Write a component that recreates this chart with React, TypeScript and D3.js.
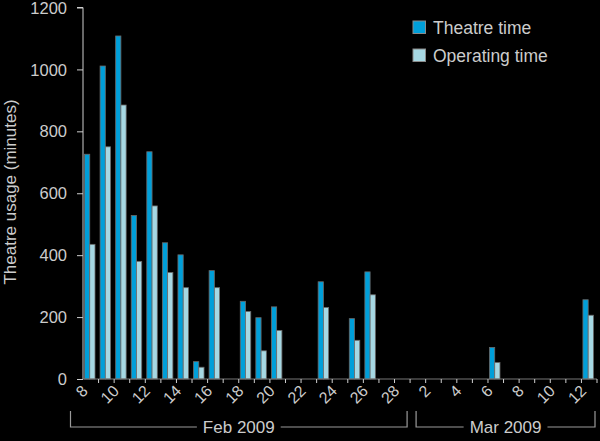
import { useEffect, useRef } from 'react';
import * as d3 from 'd3';

// one entry per day, Feb 8 to Mar 12 2009
const days = [
  'Feb 8', 'Feb 9', 'Feb 10', 'Feb 11', 'Feb 12', 'Feb 13', 'Feb 14', 'Feb 15', 'Feb 16', 'Feb 17',
  'Feb 18', 'Feb 19', 'Feb 20', 'Feb 21', 'Feb 22', 'Feb 23', 'Feb 24', 'Feb 25', 'Feb 26', 'Feb 27',
  'Feb 28', 'Mar 1', 'Mar 2', 'Mar 3', 'Mar 4', 'Mar 5', 'Mar 6', 'Mar 7', 'Mar 8', 'Mar 9',
  'Mar 10', 'Mar 11', 'Mar 12',
];
const dayLabels = [
  '8', '', '10', '', '12', '', '14', '', '16', '', '18', '', '20', '', '22', '', '24', '', '26', '',
  '28', '', '2', '', '4', '', '6', '', '8', '', '10', '', '12',
];
const theatreTime = [
  726, 1011, 1108, 528, 734, 440, 401, 56, 350, 0, 251, 198, 233, 0, 0, 314, 0, 195, 346, 0,
  0, 0, 0, 0, 0, 0, 102, 0, 0, 0, 0, 0, 256,
];
const operatingTime = [
  435, 750, 885, 380, 559, 344, 295, 38, 295, 0, 218, 91, 157, 0, 0, 231, 0, 125, 272, 0,
  0, 0, 0, 0, 0, 0, 53, 0, 0, 0, 0, 0, 206,
];
const seriesNames = ['Theatre time', 'Operating time'];
const seriesColors = ['#009fd9', '#a6d8e3'];
const yTicks = [0, 200, 400, 600, 800, 1000, 1200];
const months = [
  { name: 'Feb 2009', first: 'Feb 8', last: 'Feb 28' },
  { name: 'Mar 2009', first: 'Mar 1', last: 'Mar 12' },
];

const W = 600;
const H = 441;
const FONT = '"Liberation Sans", Arial, sans-serif';
const TEXT = '#cccccc';

const App = () => {
  const ref = useRef<SVGSVGElement | null>(null);

  useEffect(() => {
    if (!ref.current) return;
    const svg = d3.select(ref.current);
    svg.selectAll('*').remove();

    svg.append('rect').attr('width', W).attr('height', H).attr('fill', '#000');

    const x = d3.scaleBand<string>().domain(days).range([83, 597]).padding(0);
    const sub = d3.scaleBand<number>().domain([0, 1]).range([1.5, 12]).padding(0);
    const y = d3.scaleLinear().domain([0, 1200]).range([379, 7.5]);

    // bars
    const series = [theatreTime, operatingTime];
    series.forEach((vals, s) => {
      svg.append('g')
        .selectAll('rect')
        .data(days.map((d, i) => ({ d, v: vals[i] })).filter(e => e.v > 0))
        .join('rect')
        .attr('x', e => (x(e.d) as number) + (sub(s) as number))
        .attr('y', e => y(e.v))
        .attr('width', sub.bandwidth())
        .attr('height', e => y(0) - y(e.v))
        .attr('fill', seriesColors[s])
        .attr('stroke', '#6a6a6a')
        .attr('stroke-width', 0.8);
    });

    // y axis
    const yAxis = svg.append('g')
      .attr('transform', 'translate(83,0)')
      .call(d3.axisLeft(y).tickValues(yTicks).tickSize(6).tickPadding(10).tickFormat(d3.format('d')));
    yAxis.select('.domain').attr('stroke', '#cfcfcf').attr('d', `M-6,${y(1200)}H0V${y(0)}`);
    yAxis.selectAll('.tick line').attr('stroke', '#cfcfcf');
    yAxis.selectAll('text')
      .attr('fill', TEXT)
      .attr('dy', '0.34em')
      .style('font-family', FONT)
      .style('font-size', '16.5px');

    // x axis: baseline and day boundary ticks
    svg.append('line')
      .attr('x1', 83).attr('x2', 597)
      .attr('y1', y(0)).attr('y2', y(0))
      .attr('stroke', '#777');
    svg.append('g')
      .selectAll('line')
      .data(days.slice(1).concat(['end']))
      .join('line')
      .attr('x1', (d, i) => (i < days.length - 1 ? (x(d) as number) : 597))
      .attr('x2', (d, i) => (i < days.length - 1 ? (x(d) as number) : 597))
      .attr('y1', y(0))
      .attr('y2', y(0) + 4)
      .attr('stroke', '#cfcfcf');

    svg.append('g')
      .selectAll('text')
      .data(days.map((d, i) => ({ d, label: dayLabels[i] })).filter(e => e.label))
      .join('text')
      .attr('transform', e => `translate(${(x(e.d) as number) + x.bandwidth() / 2 - 2},392) rotate(-45)`)
      .attr('text-anchor', 'end')
      .attr('fill', TEXT)
      .style('font-family', FONT)
      .style('font-size', '16px')
      .text(e => e.label);

    // month brackets
    months.forEach(m => {
      const x0 = m.name.startsWith('Feb') ? 70.5 : (x(m.first) as number) + 6;
      const x1 = (x(m.last) as number) + x.bandwidth() - (m.name.startsWith('Feb') ? 3 : 2);
      const cx = (x0 + x1) / 2;
      const g = svg.append('g');
      const t = g.append('text')
        .attr('x', cx)
        .attr('y', 433)
        .attr('text-anchor', 'middle')
        .attr('fill', TEXT)
        .style('font-family', FONT)
        .style('font-size', '17px')
        .text(m.name);
      const tw = (t.node() as SVGTextElement).getComputedTextLength();
      g.append('path')
        .attr('d', `M${x0},411V427H${cx - tw / 2 - 6}M${cx + tw / 2 + 6},427H${x1}V411`)
        .attr('fill', 'none')
        .attr('stroke', '#9a9a9a')
        .attr('stroke-width', 1.2);
    });

    // y axis title
    svg.append('text')
      .attr('transform', 'translate(16,192) rotate(-90)')
      .attr('text-anchor', 'middle')
      .attr('fill', TEXT)
      .style('font-family', FONT)
      .style('font-size', '17px')
      .text('Theatre usage (minutes)');

    // legend
    const legend = svg.append('g').attr('transform', 'translate(413,21)');
    seriesNames.forEach((name, i) => {
      legend.append('rect')
        .attr('x', 0)
        .attr('y', i * 28)
        .attr('width', 12.5)
        .attr('height', 12.5)
        .attr('fill', seriesColors[i])
        .attr('stroke', '#8a8a8a')
        .attr('stroke-width', 1);
      legend.append('text')
        .attr('x', 20)
        .attr('y', i * 28 + 13)
        .attr('fill', TEXT)
        .style('font-family', FONT)
        .style('font-size', '17.5px')
        .text(name);
    });
  }, []);

  return (
    <svg
      ref={ref}
      width={W}
      height={H}
      style={{ position: 'fixed', top: 0, left: 0, display: 'block', background: '#000' }}
    />
  );
};

export default App;
